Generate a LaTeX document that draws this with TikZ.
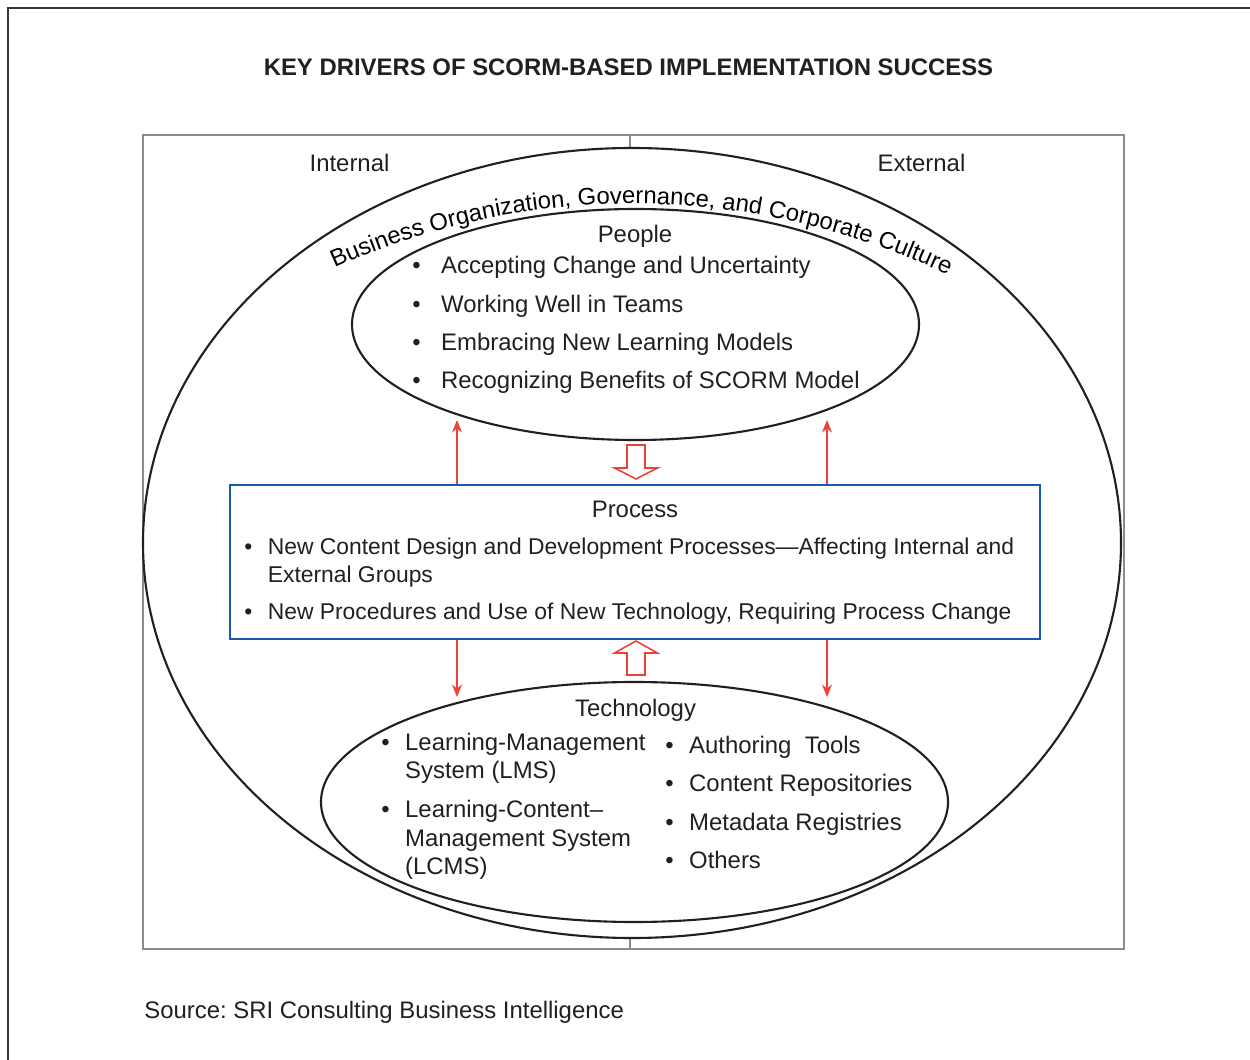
\documentclass[tikz,border=0pt]{standalone}
\usepackage{fontspec}
\setmainfont{Liberation Sans}
\usetikzlibrary{shapes.geometric,arrows.meta,decorations.text}
\definecolor{framegray}{RGB}{140,140,140}
\definecolor{darkframe}{RGB}{55,55,55}
\definecolor{procblue}{RGB}{25,90,170}
\definecolor{arrred}{RGB}{236,66,56}
\definecolor{inkblack}{RGB}{35,31,32}
\newcommand{\dfont}{\fontsize{13.6}{21.8}\selectfont}
\tikzstyle{oval} = [ellipse, draw=inkblack, line width=1.2pt, fill=white, inner sep=0pt]
\tikzstyle{procbox} = [rectangle, draw=procblue, line width=1.3pt, fill=white, minimum width=16.2cm, minimum height=3.08cm]
\tikzstyle{redarrow} = [draw=arrred, line width=0.8pt, -{Stealth[length=2.5mm,width=2mm]}]
\tikzstyle{blockarrow} = [draw=arrred, line width=0.9pt, fill=white, line join=miter]
\tikzstyle{txt} = [inner sep=0pt, text=inkblack, font=\dfont]

\begin{document}
\frenchspacing
\begin{tikzpicture}
    \useasboundingbox (0,0) rectangle (25,21.18);
    \draw[darkframe, line width=0.9pt] (0.16,-0.5) -- (0.16,21.02) -- (25.5,21.02);

    \node[txt, font=\dfont\bfseries, anchor=base] (title) at (12.57,19.66) {KEY DRIVERS OF SCORM-BASED IMPLEMENTATION SUCCESS};

    % internal / external split
    \draw[framegray, line width=1.1pt] (2.86,2.2) rectangle (22.48,18.48);
    \draw[framegray, line width=1.1pt] (12.6,2.2) -- (12.6,18.48);

    \node[oval, minimum width=19.56cm, minimum height=15.8cm] (culture) at (12.64,10.32) {};
    \node[oval, minimum width=11.34cm, minimum height=4.62cm] (people) at (12.71,14.69) {};
    \node[oval, minimum width=12.54cm, minimum height=4.8cm] (tech) at (12.69,5.14) {};
    \node[procbox] (process) at (12.7,9.94) {};

    \node[txt, anchor=base] (internal) at (6.99,17.74) {Internal};
    \node[txt, anchor=base] (external) at (18.43,17.74) {External};

    \path[decorate, decoration={text along path, text align=center,
        text={|\dfont|Business Organization{,} Governance{,} and Corporate Culture}}]
        (12.668,2.56) ++(119.35:14.546) arc[start angle=119.35, end angle=59.35, radius=14.546];

    \node[txt, anchor=base] (peoplehead) at (12.7,16.32) {People};
    \node[txt, anchor=base west] (peoplelist) at (8.24,15.7) {\begin{tabular}[t]{@{}l@{\hspace{0.41cm}}l@{}}
        \textbullet & Accepting Change and Uncertainty\\
        \textbullet & Working Well in Teams\\
        \textbullet & Embracing New Learning Models\\
        \textbullet & Recognizing Benefits of SCORM Model
    \end{tabular}};

    \node[txt, anchor=base] (prochead) at (12.7,10.82) {Process};
    \node[txt, anchor=base west] (proclist) at (4.88,10.08) {\fontsize{13}{15.4}\selectfont\begin{tabular}[t]{@{}l@{\hspace{0.31cm}}l@{}}
        \textbullet & New Content Design and Development Processes—Affecting Internal and\\
        & External Groups\\[5.8pt]
        \textbullet & New Procedures and Use of New Technology, Requiring Process Change
    \end{tabular}};

    \node[txt, anchor=base] (techhead) at (12.71,6.85) {Technology};
    \node[txt, anchor=base west] (techleft) at (7.62,6.17) {\fontsize{13.6}{16.2}\selectfont\begin{tabular}[t]{@{}l@{\hspace{0.31cm}}l@{}}
        \textbullet & Learning-Management\\
        & System (LMS)\\[6pt]
        \textbullet & Learning-Content–\\
        & Management System\\
        & (LCMS)
    \end{tabular}};
    \node[txt, anchor=base west] (techright) at (13.3,6.11) {\begin{tabular}[t]{@{}l@{\hspace{0.31cm}}l@{}}
        \textbullet & Authoring\ \ Tools\\
        \textbullet & Content Repositories\\
        \textbullet & Metadata Registries\\
        \textbullet & Others
    \end{tabular}};

    % arrows between the layers
    \coordinate (pL) at (9.14,12.78);
    \coordinate (pR) at (16.54,12.78);
    \coordinate (tL) at (9.14,7.24);
    \coordinate (tR) at (16.54,7.24);
    \draw[redarrow] (process.north -| pL) -- (pL);
    \draw[redarrow] (process.north -| pR) -- (pR);
    \draw[redarrow] (process.south -| tL) -- (tL);
    \draw[redarrow] (process.south -| tR) -- (tR);

    \draw[blockarrow] (12.72,11.6) -- ++(0.43,0.22) -- ++(-0.25,0) -- ++(0,0.46) -- ++(-0.36,0) -- ++(0,-0.46) -- ++(-0.25,0) -- cycle;
    \draw[blockarrow] (12.72,8.36) -- ++(0.43,-0.24) -- ++(-0.25,0) -- ++(0,-0.44) -- ++(-0.36,0) -- ++(0,0.44) -- ++(-0.25,0) -- cycle;

    \node[txt, anchor=base west] (source) at (2.88,0.82) {Source: SRI Consulting Business Intelligence};
\end{tikzpicture}
\end{document}
